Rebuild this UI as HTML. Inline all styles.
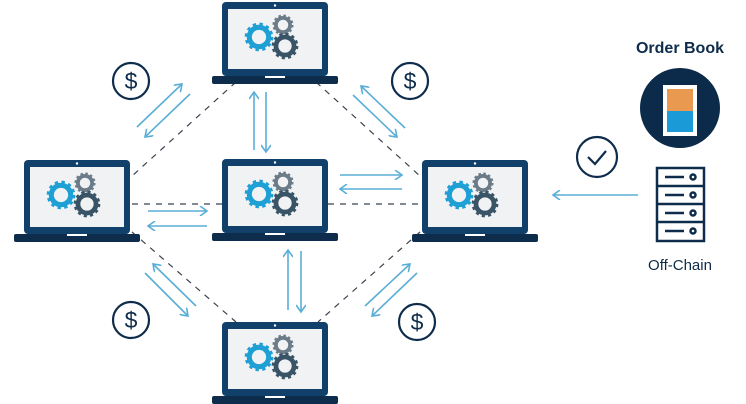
<!DOCTYPE html>
<html><head><style>body{margin:0;background:#fff}svg{display:block}</style></head><body>
<svg width="746" height="404" viewBox="0 0 746 404" xmlns="http://www.w3.org/2000/svg">
<defs>
<g id="gear">
<circle r="9.5" fill="none" stroke="currentColor" stroke-width="5"/>
<circle r="12.3" fill="none" stroke="currentColor" stroke-width="3.5" stroke-dasharray="3.2 3.25"/>
</g>
<g id="lap">
<rect x="0" y="0" width="106" height="74" rx="4" fill="#11406a"/>
<rect x="6" y="7" width="94" height="60" fill="#f1f2f4"/>
<circle cx="53" cy="3.5" r="1.2" fill="#fff"/>
<rect x="-10" y="74" width="126" height="8" rx="2" fill="#0e2c4b"/>
<rect x="43" y="74" width="20" height="2" fill="#fff"/>
<use href="#gear" color="#1ea0d5" transform="translate(37 35) scale(1.02)"/>
<use href="#gear" color="#6b7b88" transform="translate(61 23) scale(0.75)"/>
<use href="#gear" color="#3a5467" transform="translate(63 44) scale(0.95)"/>
</g>
<marker id="ah" markerWidth="10" markerHeight="10" refX="8" refY="5" orient="auto" markerUnits="userSpaceOnUse">
<path d="M1 0 L8 5 L1 10" fill="none" stroke="#5aaed6" stroke-width="1.6"/>
</marker>
</defs>

<g stroke="#3a4450" stroke-width="1.2" stroke-dasharray="6 6" fill="none">
<line x1="236" y1="82" x2="132" y2="176"/>
<line x1="316" y1="82" x2="420" y2="176"/>
<line x1="132" y1="232" x2="236" y2="322"/>
<line x1="420" y1="232" x2="318" y2="322"/>
<line x1="132" y1="204" x2="222" y2="204"/>
<line x1="328" y1="204" x2="420" y2="204"/>
</g>

<use href="#lap" transform="translate(222,2)"/>
<use href="#lap" transform="translate(24,160)"/>
<use href="#lap" transform="translate(222,159)"/>
<use href="#lap" transform="translate(422,160)"/>
<use href="#lap" transform="translate(222,322)"/>

<g stroke="#5aaed6" stroke-width="1.6" fill="none" marker-end="url(#ah)">
<line x1="137" y1="127" x2="182" y2="84"/>
<line x1="190" y1="94" x2="145" y2="137"/>
<line x1="254" y1="150" x2="254" y2="92"/>
<line x1="266" y1="92" x2="266" y2="152"/>
<line x1="405" y1="128" x2="361" y2="86"/>
<line x1="353" y1="95" x2="397" y2="137"/>
<line x1="340" y1="175" x2="402" y2="175"/>
<line x1="402" y1="189" x2="340" y2="189"/>
<line x1="148" y1="211" x2="207" y2="211"/>
<line x1="207" y1="226" x2="148" y2="226"/>
<line x1="196" y1="306" x2="153" y2="264"/>
<line x1="145" y1="273" x2="188" y2="316"/>
<line x1="288" y1="310" x2="288" y2="250"/>
<line x1="301" y1="251" x2="301" y2="312"/>
<line x1="365" y1="306" x2="410" y2="264"/>
<line x1="417" y1="273" x2="372" y2="316"/>
<line x1="638" y1="195" x2="553" y2="195"/>
</g>

<g fill="none" stroke="#0e2c4b" stroke-width="2.2">
<circle cx="131" cy="81" r="18"/>
<circle cx="410" cy="81" r="18"/>
<circle cx="131" cy="320" r="18"/>
<circle cx="417" cy="322" r="18"/>
<circle cx="597" cy="157" r="20"/>
<path d="M588 157 L595 164 L606 151"/>
</g>
<g font-family="Liberation Sans, sans-serif" font-size="23" fill="#0e2c4b" text-anchor="middle">
<text x="131" y="89">$</text><text x="410" y="89">$</text>
<text x="131" y="328">$</text><text x="417" y="330">$</text>
</g>

<text x="680" y="53" font-family="Liberation Sans, sans-serif" font-weight="bold" font-size="16" fill="#0e2c4b" text-anchor="middle">Order Book</text>
<circle cx="680" cy="108" r="40" fill="#0c2a49"/>
<rect x="663" y="85" width="34" height="51" fill="#fff"/>
<rect x="667" y="89" width="26" height="22" fill="#e99a50"/>
<rect x="667" y="111" width="26" height="21" fill="#1a9ad6"/>

<g fill="none" stroke="#0e2c4b" stroke-width="2.5">
<rect x="657" y="168" width="47" height="73"/>
<line x1="657" y1="186" x2="704" y2="186"/>
<line x1="657" y1="204" x2="704" y2="204"/>
<line x1="657" y1="222" x2="704" y2="222"/>
<line x1="665" y1="177" x2="684" y2="177"/><circle cx="693" cy="177" r="2.5"/>
<line x1="665" y1="195" x2="684" y2="195"/><circle cx="693" cy="195" r="2.5"/>
<line x1="665" y1="213" x2="684" y2="213"/><circle cx="693" cy="213" r="2.5"/>
<line x1="665" y1="231" x2="684" y2="231"/><circle cx="693" cy="231" r="2.5"/>
</g>
<text x="680" y="270" font-family="Liberation Sans, sans-serif" font-size="15" fill="#0e2c4b" text-anchor="middle">Off-Chain</text>
</svg>
</body></html>
